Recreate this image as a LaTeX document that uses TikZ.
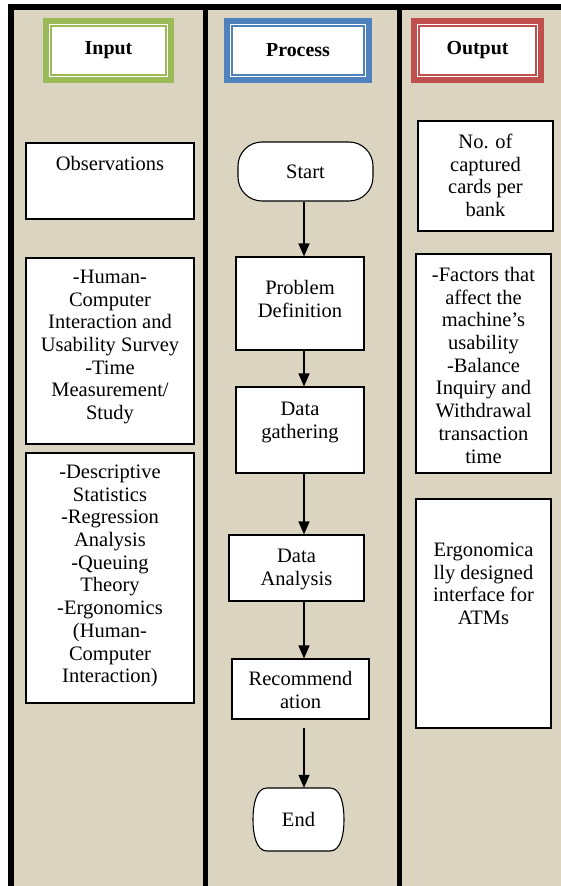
\documentclass[tikz,border=0pt]{standalone}
\usepackage{fontspec}
\setmainfont{Liberation Serif}
\usetikzlibrary{arrows.meta}
\definecolor{tanbg}{HTML}{DAD4C0}
\definecolor{hgreen}{HTML}{9BBB59}
\definecolor{hblue}{HTML}{4F81BD}
\definecolor{hred}{HTML}{C0504D}
\newcommand{\topbox}[4]{\parbox[c][#1pt][t]{#2pt}{\centering\vspace*{#3pt}\strut #4}}
\begin{document}
\begin{tikzpicture}[x=1pt,y=-1pt,
  font=\fontsize{20.5}{22.7}\selectfont,
  box/.style={draw=black, line width=1.1pt, fill=white, inner sep=0pt},
  hdr/.style={fill=white, line width=1.3pt, inner sep=0pt, font=\fontsize{19.9}{22.7}\selectfont\bfseries},
  arr/.style={line width=1.4pt, -{Triangle[width=11pt,length=13pt]}}]
\useasboundingbox (0,0) rectangle (561,886);
\fill[white] (0,0) rectangle (561,886);
% frame and columns
\fill[black] (8,4) rectangle (561,886);
\fill[tanbg] (14,10) rectangle (561,886);
\fill[black] (203,10) rectangle (208,886);
\fill[black] (397,10) rectangle (402,886);
% headers
\fill[hgreen] (43,18) rectangle (174,83);
\fill[white] (49.3,24.3) rectangle (167.7,76.7);
\node[hdr, draw=hgreen, minimum width=115pt, minimum height=49pt] (input) at (108.5,50.5) {Input};
\fill[hblue] (224,18) rectangle (372,83);
\fill[white] (230.3,24.3) rectangle (365.7,76.7);
\node[hdr, draw=hblue, minimum width=132pt, minimum height=49pt] (process) at (298,50.5) {Process};
\fill[hred] (411,18) rectangle (544,83);
\fill[white] (417.3,24.3) rectangle (537.7,76.7);
\node[hdr, draw=hred, minimum width=117pt, minimum height=49pt] (output) at (477.5,50.5) {Output};
% input column
\node[box] (obs) at (110,181) {\topbox{76}{168}{11.6}{Observations}};
\node[box] (hci) at (110,351) {\topbox{186}{168}{9.6}{-Human-\\Computer\\Interaction and\\Usability Survey\\-Time\\Measurement/\\Study}};
\node[box] (stat) at (110,578) {\topbox{250}{168}{9.6}{-Descriptive\\Statistics\\-Regression\\Analysis\\-Queuing\\Theory\\-Ergonomics\\(Human-\\Computer\\Interaction)}};
% output column
\node[box] (cards) at (485.5,176) {\topbox{110}{135}{11.6}{No. of\\captured\\cards per\\bank}};
\node[box] (factors) at (483.5,363.5) {\topbox{219}{135}{11.6}{-Factors that\\affect the\\machine’s\\usability\\-Balance\\Inquiry and\\Withdrawal\\transaction\\time}};
\node[box] (ergo) at (483.5,613.5) {\topbox{229}{135}{41.6}{Ergonomica\\lly designed\\interface for\\ATMs}};
% process column
\node[box, rounded corners=24pt, minimum width=135pt, minimum height=59pt] (start) at (305.5,171.5) {Start};
\node[box] (prob) at (300,303.5) {\topbox{93}{128}{21.6}{Problem\\Definition}};
\node[box] (gath) at (300,430) {\topbox{86}{128}{12.6}{Data\\gathering}};
\node[box] (anal) at (296.5,568) {\topbox{66}{135}{11.6}{Data\\Analysis}};
\node[box] (rec) at (300.5,689) {\topbox{60}{137}{10.6}{Recommend\\ation}};
\draw[line width=1.1pt, fill=white] (267,788) -- (330,788)
  .. controls (341,788) and (344,805) .. (344,819.5)
  .. controls (344,834) and (341,851) .. (330,851) -- (267,851)
  .. controls (256,851) and (253,834) .. (253,819.5)
  .. controls (253,805) and (256,788) .. (267,788) -- cycle;
\node[inner sep=0pt, minimum width=91pt, minimum height=63pt] (end) at (298.5,819.5) {End};
% connectors
\coordinate (ax) at (304,0);
\draw[arr] (start.south -| ax) -- (prob.north -| ax);
\draw[arr] (prob.south -| ax) -- (gath.north -| ax);
\draw[arr] (gath.south -| ax) -- (anal.north -| ax);
\draw[arr] (anal.south -| ax) -- (rec.north -| ax);
\draw[arr, shorten <=8pt] (rec.south -| ax) -- (end.north -| ax);
\end{tikzpicture}
\end{document}
